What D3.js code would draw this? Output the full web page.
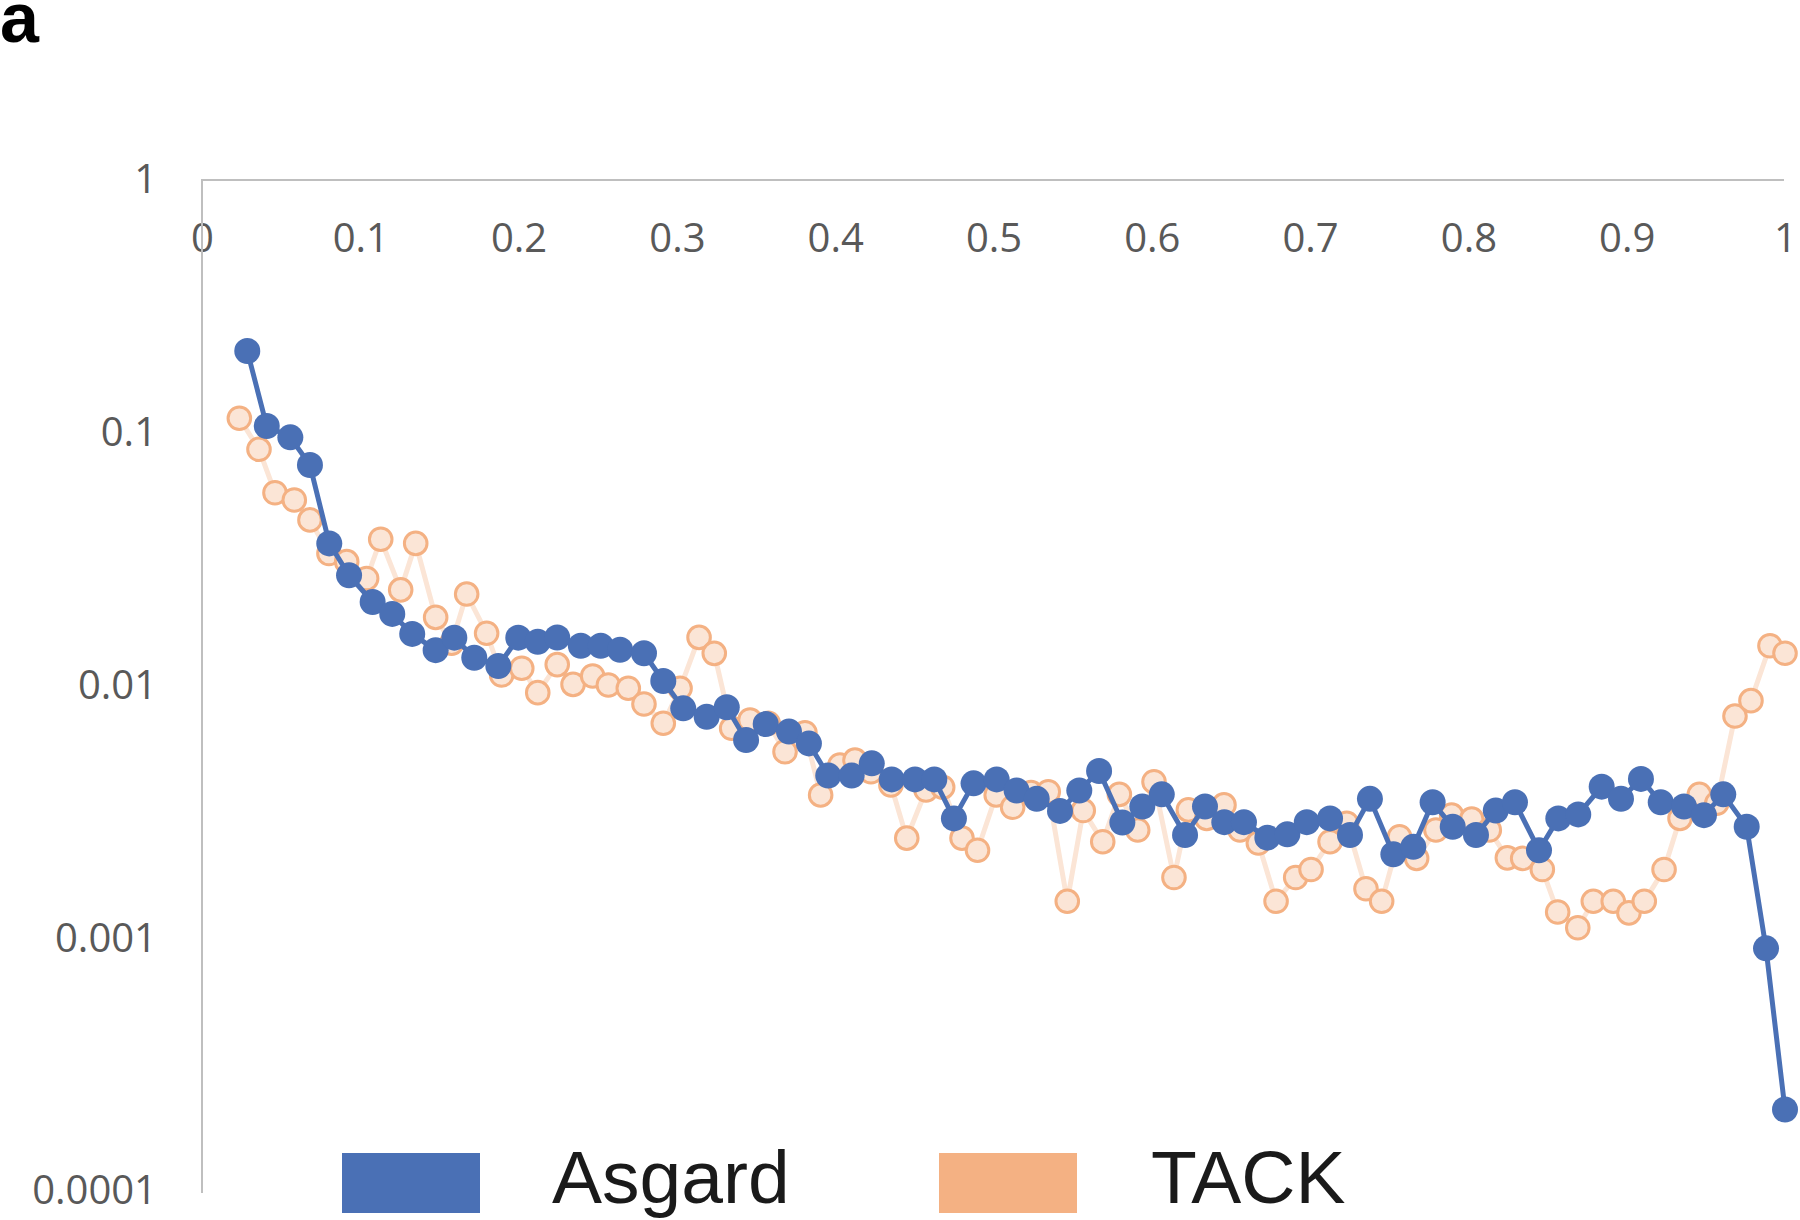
<!DOCTYPE html>
<html>
<head>
<meta charset="utf-8">
<script src="https://cdn.jsdelivr.net/npm/d3@7"></script>
<style>
  html, body { margin: 0; padding: 0; background: #ffffff; }
  svg { display: block; }
</style>
</head>
<body>
<svg id="chart" width="1800" height="1220"></svg>
<script>
// ---------------- data ----------------
const seriesNames = ["Asgard", "TACK"];

const asgardX = [
  0.0286,0.0409,0.0558,0.0682,0.0804,0.0929,0.1078,0.1202,0.1328,0.1476,
  0.1594,0.1720,0.1872,0.1998,0.2121,0.2244,0.2393,0.2519,0.2641,0.2792,
  0.2914,0.3040,0.3188,0.3315,0.3437,0.3561,0.3708,0.3834,0.3956,0.4104,
  0.4231,0.4357,0.4504,0.4626,0.4750,0.4874,0.5020,0.5146,0.5273,0.5420,
  0.5542,0.5667,0.5814,0.5940,0.6063,0.6210,0.6336,0.6458,0.6582,0.6730,
  0.6856,0.6979,0.7126,0.7252,0.7378,0.7526,0.7652,0.7774,0.7901,0.8048,
  0.8173,0.8294,0.8446,0.8568,0.8694,0.8842,0.8964,0.9090,0.9215,0.9362,
  0.9488,0.9610,0.9758,0.9880,1.0000
];
const asgardY = [
  0.2106,0.1063,0.0959,0.0745,0.0365,0.0273,0.0214,0.0192,0.0160,0.0138,
  0.01546,0.01288,0.01194,0.01546,0.01490,0.01548,0.01436,0.01436,0.01385,0.01341,
  0.01042,0.00812,0.00752,0.00820,0.00609,0.00704,0.00657,0.00590,0.00440,0.00440,
  0.00492,0.00425,0.00425,0.00425,0.00298,0.00410,0.00425,0.00384,0.00356,0.00319,
  0.00384,0.00459,0.00287,0.00332,0.00371,0.00256,0.00332,0.00288,0.00288,0.00250,
  0.00258,0.00288,0.00298,0.00256,0.00356,0.00215,0.00230,0.00345,0.00276,0.00256,
  0.00320,0.00345,0.00223,0.00298,0.00309,0.00398,0.00356,0.00427,0.00345,0.00332,
  0.00307,0.00371,0.00276,0.000912,0.000210
];

const tackX = [
  0.0236,0.0360,0.0461,0.0583,0.0682,0.0802,0.0914,0.1040,0.1129,0.1255,
  0.1350,0.1476,0.1577,0.1672,0.1798,0.1893,0.2020,0.2121,0.2244,0.2344,
  0.2468,0.2567,0.2693,0.2792,0.2914,0.3020,0.3140,0.3236,0.3346,0.3462,
  0.3577,0.3683,0.3809,0.3908,0.4030,0.4125,0.4226,0.4352,0.4452,0.4574,
  0.4679,0.4801,0.4899,0.5017,0.5121,0.5237,0.5346,0.5466,0.5567,0.5690,
  0.5795,0.5911,0.6014,0.6140,0.6231,0.6347,0.6456,0.6557,0.6673,0.6785,
  0.6909,0.7006,0.7126,0.7231,0.7353,0.7452,0.7565,0.7673,0.7795,0.7894,
  0.8021,0.8132,0.8246,0.8343,0.8467,0.8564,0.8691,0.8789,0.8915,0.9014,
  0.9111,0.9236,0.9337,0.9459,0.9569,0.9684,0.9785,0.9905,1.0000
];
const tackY = [
  0.1141,0.0860,0.0579,0.0542,0.0452,0.0333,0.0309,0.0265,0.0379,0.0239,
  0.0365,0.0186,0.0147,0.0230,0.0161,0.0110,0.0117,0.00937,0.0121,0.0101,
  0.0109,0.01005,0.00975,0.00845,0.00709,0.00975,0.0155,0.0134,0.00677,0.00730,
  0.00709,0.00547,0.00650,0.00369,0.00485,0.00507,0.00456,0.00404,0.00249,0.00386,
  0.00396,0.00249,0.00223,0.00369,0.00330,0.00377,0.00380,0.00140,0.00320,0.00241,
  0.00371,0.00268,0.00416,0.00174,0.00322,0.00298,0.00337,0.00268,0.00238,0.00140,
  0.00174,0.00187,0.00241,0.00285,0.00157,0.00140,0.00252,0.00207,0.00268,0.00307,
  0.00296,0.00268,0.00208,0.00207,0.00187,0.00127,0.00110,0.00140,0.00140,0.00126,
  0.00140,0.00187,0.00298,0.00371,0.00342,0.00757,0.00871,0.01437,0.01341
];

const xTicks = [0,0.1,0.2,0.3,0.4,0.5,0.6,0.7,0.8,0.9,1];
const xTickLabels = ["0","0.1","0.2","0.3","0.4","0.5","0.6","0.7","0.8","0.9","1"];
const yTicks = [1,0.1,0.01,0.001,0.0001];
const yTickLabels = ["1","0.1","0.01","0.001","0.0001"];
const panelLabel = "a";

// ---------------- styling ----------------
const COL_ASGARD = "#4a70b5";
const COL_TACK_LINE = "#fbe5d6";
const COL_TACK_FILL = "#fbe5d6";
const COL_TACK_STROKE = "#f4b183";
const COL_TACK_LEGEND = "#f4b183";
const AXIS_COL = "#bfbfbf";
const TICK_COL = "#595959";
const TICK_FONT = "'Open Sans', 'Noto Sans', sans-serif";

const svg = d3.select("#chart");
svg.append("rect").attr("width", 1800).attr("height", 1220).attr("fill", "#fff");

const x = d3.scaleLinear().domain([0, 1]).range([202, 1785]);
const y = d3.scaleLog().domain([0.0001, 1]).range([1191, 180]);

// panel label
svg.append("text")
  .attr("x", 0).attr("y", 42)
  .attr("font-family", "'Liberation Sans', Arial, sans-serif")
  .attr("font-weight", "bold")
  .attr("font-size", 70)
  .attr("fill", "#000")
  .text(panelLabel);

// x axis (at top, crossing at y = 1)
const xAxisG = svg.append("g")
  .attr("transform", `translate(0,${y(1)})`)
  .call(d3.axisBottom(x).tickValues(xTicks)
    .tickFormat((d, i) => xTickLabels[i]).tickSize(0).tickSizeOuter(0));
xAxisG.select(".domain").attr("stroke", AXIS_COL).attr("stroke-width", 2)
  .attr("d", `M${x(0)},0H1784`);
xAxisG.selectAll(".tick text")
  .attr("y", 0).attr("dy", 0)
  .attr("transform", "translate(0,72)")
  .attr("font-family", TICK_FONT).attr("font-size", 40).attr("fill", TICK_COL);

// y axis
const yAxisG = svg.append("g")
  .attr("transform", `translate(${x(0)},0)`)
  .call(d3.axisLeft(y).tickValues(yTicks)
    .tickFormat((d, i) => yTickLabels[i]).tickSize(0).tickSizeOuter(0).tickPadding(45));
yAxisG.select(".domain").attr("stroke", AXIS_COL).attr("stroke-width", 2)
  .attr("d", `M0,${y(1) - 1}V1193`);
yAxisG.selectAll(".tick text")
  .attr("font-family", TICK_FONT).attr("font-size", 40).attr("fill", TICK_COL);

// series data
const tackData = tackX.map((v, i) => ({ x: v, y: tackY[i] }));
const asgardData = asgardX.map((v, i) => ({ x: v, y: asgardY[i] }));
const line = d3.line().x(d => x(d.x)).y(d => y(d.y));

// TACK
svg.append("path").datum(tackData)
  .attr("d", line).attr("fill", "none")
  .attr("stroke", COL_TACK_LINE).attr("stroke-width", 5)
  .attr("stroke-linejoin", "round").attr("stroke-linecap", "round");
svg.append("g").selectAll("circle").data(tackData).join("circle")
  .attr("cx", d => x(d.x)).attr("cy", d => y(d.y)).attr("r", 11.3)
  .attr("fill", COL_TACK_FILL).attr("stroke", COL_TACK_STROKE).attr("stroke-width", 3);

// Asgard
svg.append("path").datum(asgardData)
  .attr("d", line).attr("fill", "none")
  .attr("stroke", COL_ASGARD).attr("stroke-width", 5)
  .attr("stroke-linejoin", "round").attr("stroke-linecap", "round");
svg.append("g").selectAll("circle").data(asgardData).join("circle")
  .attr("cx", d => x(d.x)).attr("cy", d => y(d.y)).attr("r", 13)
  .attr("fill", COL_ASGARD);

// legend
const legend = svg.append("g");
const legendItems = [
  { name: seriesNames[0], color: COL_ASGARD, bx: 342, tx: 552 },
  { name: seriesNames[1], color: COL_TACK_LEGEND, bx: 939, tx: 1151 }
];
legendItems.forEach(it => {
  legend.append("rect")
    .attr("x", it.bx).attr("y", 1153).attr("width", 138).attr("height", 60)
    .attr("fill", it.color);
  legend.append("text")
    .attr("x", it.tx).attr("y", 1203)
    .attr("font-family", "'Liberation Sans', Arial, sans-serif")
    .attr("font-size", 75).attr("fill", "#1a1a1a")
    .text(it.name);
});
</script>
</body>
</html>
